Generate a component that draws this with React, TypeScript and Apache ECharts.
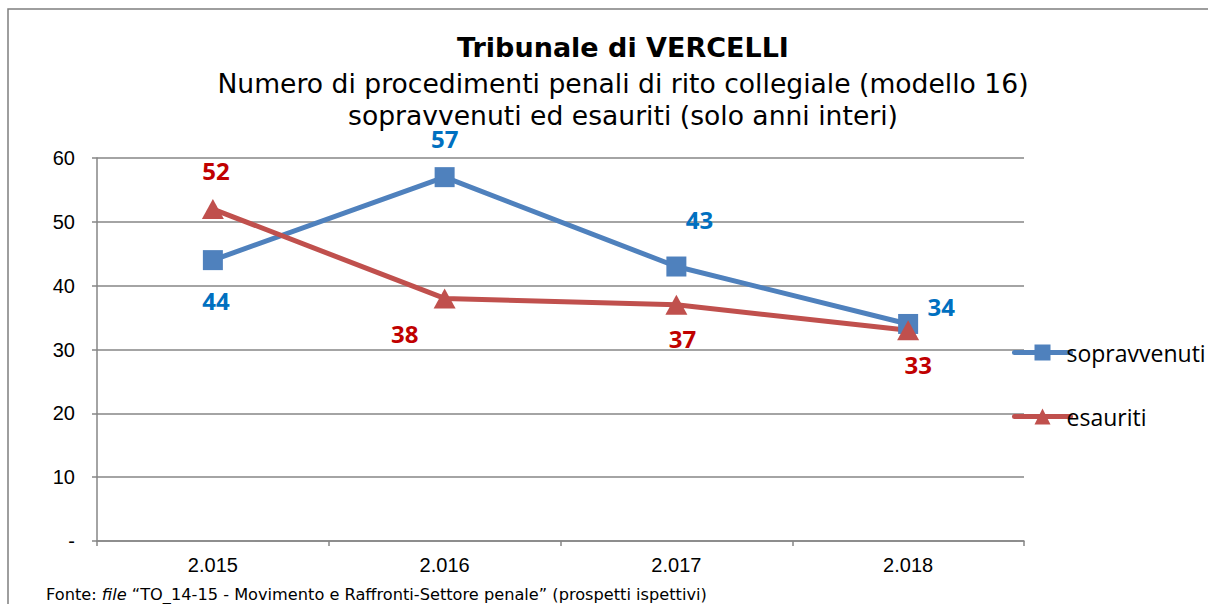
import React, { useEffect, useRef } from "react";
import * as echarts from "echarts";

const categories = ["2.015", "2.016", "2.017", "2.018"];
const sopravvenuti = [44, 57, 43, 34];
const esauriti = [52, 38, 37, 33];
const yTicks = { min: 0, max: 60, interval: 10 };

const sopLabelOffsets = [[3, 40], [0, -39], [23, -47], [33, -17]];
const esaLabelOffsets = [[3, -39], [-40, 35], [6, 34], [10, 34]];

const BLUE = "#4F81BD";
const RED = "#C0504D";
const BLUE_LABEL = "#0070C0";
const RED_LABEL = "#C00000";
const GRID = "#868686";

export default function App() {
  const ref = useRef<HTMLDivElement>(null);
  useEffect(() => {
    document.body.style.margin = "0";
    const chart = echarts.init(ref.current!, null, { renderer: "svg" });
    const labelFont = {
      fontFamily: "Open Sans",
      fontWeight: "bold" as const,
      fontSize: 24,
    };
    chart.setOption({
      animation: false,
      backgroundColor: "#ffffff",
      grid: { left: 97, right: 184, top: 158, bottom: 63 },
      xAxis: {
        type: "category",
        data: categories,
        boundaryGap: true,
        axisLine: { lineStyle: { color: GRID, width: 1.5 } },
        axisTick: { show: true, length: 5, lineStyle: { color: GRID, width: 1.5 } },
        axisLabel: { color: "#000", fontFamily: "Liberation Sans", fontSize: 20, margin: 14 },
      },
      yAxis: {
        type: "value",
        min: yTicks.min,
        max: yTicks.max,
        interval: yTicks.interval,
        axisLine: { show: true, lineStyle: { color: GRID, width: 1.5 } },
        axisTick: { show: true, length: 5, lineStyle: { color: GRID, width: 1.5 } },
        splitLine: { lineStyle: { color: GRID, width: 1.5 } },
        axisLabel: {
          color: "#000",
          fontFamily: "Liberation Sans",
          fontSize: 20,
          margin: 22,
          formatter: (v: number) => (v === 0 ? "-" : String(v)),
        },
      },
      legend: {
        orient: "vertical",
        left: 1007,
        top: 336,
        itemWidth: 56,
        itemHeight: 20,
        itemGap: 41,
        lineStyle: { width: 5, cap: "round" },
        textStyle: {
          color: "#000",
          fontFamily: "Open Sans",
          fontSize: 23,
          lineHeight: 20,
          padding: [0, 0, 0, -9],
        },
        data: ["sopravvenuti", "esauriti"],
      },
      series: [
        {
          name: "sopravvenuti",
          type: "line",
          data: sopravvenuti.map((v, i) => ({
            value: v,
            label: { offset: sopLabelOffsets[i] },
          })),
          symbol: "rect",
          symbolSize: 20,
          itemStyle: { color: BLUE },
          lineStyle: { color: BLUE, width: 5 },
          label: { show: true, position: "inside", color: BLUE_LABEL, ...labelFont },
        },
        {
          name: "esauriti",
          type: "line",
          data: esauriti.map((v, i) => ({
            value: v,
            label: { offset: esaLabelOffsets[i] },
          })),
          symbol: "triangle",
          symbolSize: [22, 20],
          itemStyle: { color: RED },
          lineStyle: { color: RED, width: 5 },
          label: { show: true, position: "inside", color: RED_LABEL, ...labelFont },
        },
      ],
      graphic: [
        {
          type: "polyline",
          shape: { points: [[8, 700], [8, 9], [1300, 9]] },
          style: { stroke: "#7f7f7f", lineWidth: 1.5, fill: null },
          silent: true,
        },
        {
          type: "text",
          x: 623,
          y: 47,
          style: {
            text: "Tribunale di VERCELLI",
            textAlign: "center",
            textVerticalAlign: "middle",
            fontFamily: "DejaVu Sans",
            fontWeight: "bold",
            fontSize: 27,
            fill: "#000",
          },
        },
        {
          type: "text",
          x: 623,
          y: 83,
          style: {
            text: "Numero di procedimenti penali di rito collegiale (modello 16)",
            textAlign: "center",
            textVerticalAlign: "middle",
            fontFamily: "DejaVu Sans",
            fontSize: 26.6,
            fill: "#000",
          },
        },
        {
          type: "text",
          x: 623,
          y: 115,
          style: {
            text: "sopravvenuti ed esauriti (solo anni interi)",
            textAlign: "center",
            textVerticalAlign: "middle",
            fontFamily: "DejaVu Sans",
            fontSize: 26.6,
            fill: "#000",
          },
        },
        {
          type: "text",
          x: 46,
          y: 594,
          style: {
            text: "{n|Fonte: }{i|file}{n| “TO_14-15 - Movimento e Raffronti-Settore penale” (prospetti ispettivi)}",
            textVerticalAlign: "middle",
            rich: {
              n: { fontFamily: "DejaVu Sans", fontSize: 16.2, fill: "#000" },
              i: { fontFamily: "DejaVu Sans", fontStyle: "italic", fontSize: 16.2, fill: "#000" },
            },
          },
        },
      ],
    });
    return () => chart.dispose();
  }, []);
  return <div ref={ref} style={{ width: 1208, height: 604, position: "absolute", left: 0, top: 0 }} />;
}
